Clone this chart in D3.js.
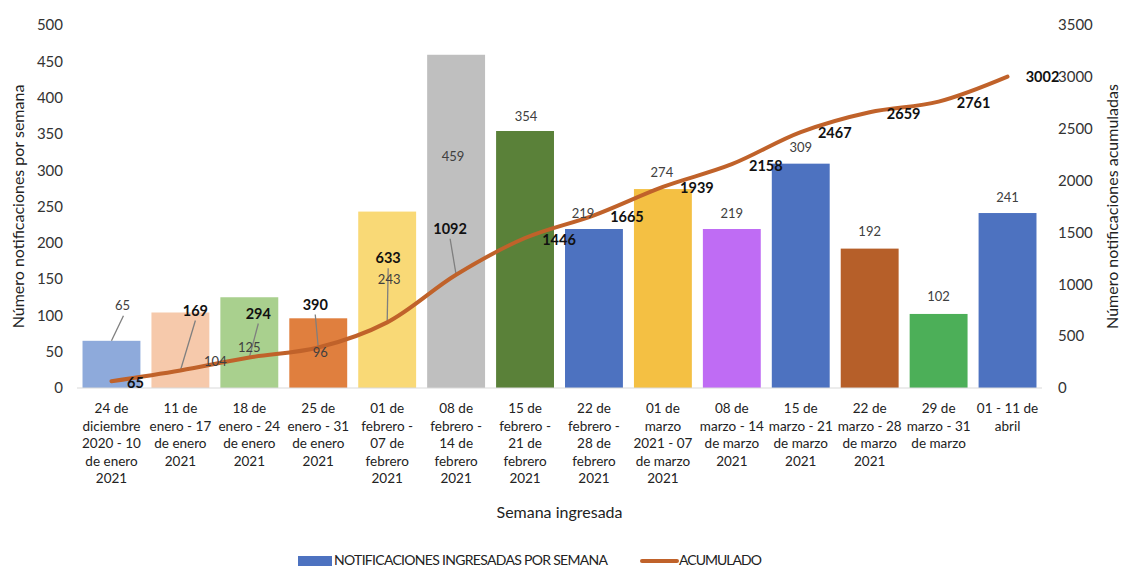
<!DOCTYPE html>
<html>
<head>
<meta charset="utf-8">
<script src="https://cdn.jsdelivr.net/npm/d3@7"></script>
<style>
  body { margin: 0; background: #fff; }
  svg { font-family: "Lato", "Open Sans", sans-serif; display: block; }
</style>
</head>
<body>
<script>
const weeks = [
	"24 de\ndiciembre\n2020 - 10\nde enero\n2021",
	"11 de\nenero - 17\nde enero\n2021",
	"18 de\nenero - 24\nde enero\n2021",
	"25 de\nenero - 31\nde enero\n2021",
	"01 de\nfebrero -\n07 de\nfebrero\n2021",
	"08 de\nfebrero -\n14 de\nfebrero\n2021",
	"15 de\nfebrero -\n21 de\nfebrero\n2021",
	"22 de\nfebrero -\n28 de\nfebrero\n2021",
	"01 de\nmarzo\n2021 - 07\nde marzo\n2021",
	"08 de\nmarzo - 14\nde marzo\n2021",
	"15 de\nmarzo - 21\nde marzo\n2021",
	"22 de\nmarzo - 28\nde marzo\n2021",
	"29 de\nmarzo - 31\nde marzo",
	"01 - 11 de\nabril",
];
const weekly = [65, 104, 125, 96, 243, 459, 354, 219, 274, 219, 309, 192, 102, 241];
const accumulated = [65, 169, 294, 390, 633, 1092, 1446, 1665, 1939, 2158, 2467, 2659, 2761, 3002];
const barColors = [
	"#8eaadb", "#f6c9ab", "#a9d08e", "#e07f3e", "#f9d976", "#bfbfbf", "#5a8139",
	"#4d72c0", "#f4c043", "#bf6cf4", "#4d72c0", "#b65f29", "#4caf58", "#4d72c0",
];
const leftTicks = [0, 50, 100, 150, 200, 250, 300, 350, 400, 450, 500];
const rightTicks = [0, 500, 1000, 1500, 2000, 2500, 3000, 3500];

// where Excel left the data labels (offset from the mark, px)
const barLabelShift = [
	[11, -35], [35, 49], [0, 50], [2, 34], [2, 68], [-3, 102], [1, -15],
	[-11, -16], [-1, -17], [0, -16], [0, -16], [0, -17], [0, -17], [0, -16],
];
const accLabelShift = [
	[24, 2], [15, -60], [9, -44], [-3, -43], [1, -64], [-6, -46], [34, 2],
	[33, 2], [34, 1], [34, 2], [34, 1], [34, 2], [35, 1], [35, 0],
];

const width = 1122;
const height = 567;
const margin = { top: 25, right: 80, bottom: 179, left: 77 };

const svg = d3.select("body").append("svg")
	.attr("width", width)
	.attr("height", height);

const x = d3.scaleBand()
	.domain(d3.range(weeks.length))
	.range([margin.left, width - margin.right])
	.paddingInner(0.16)
	.paddingOuter(0.08);
const yLeft = d3.scaleLinear().domain([0, 500]).range([height - margin.bottom, margin.top]);
const yRight = d3.scaleLinear().domain([0, 3500]).range([height - margin.bottom, margin.top]);
const cx = (i) => x(i) + x.bandwidth() / 2;

// bars
svg.append("g")
	.selectAll("rect")
	.data(weekly)
	.join("rect")
	.attr("x", (d, i) => x(i))
	.attr("y", (d) => yLeft(d))
	.attr("width", x.bandwidth())
	.attr("height", (d) => yLeft(0) - yLeft(d))
	.attr("fill", (d, i) => barColors[i]);

// baseline
svg.append("line")
	.attr("x1", margin.left)
	.attr("x2", width - margin.right)
	.attr("y1", yLeft(0))
	.attr("y2", yLeft(0))
	.attr("stroke", "#d9d9d9")
	.attr("stroke-width", 1.2);

// left axis
const leftAxis = svg.append("g")
	.attr("transform", `translate(${margin.left - 14},0)`)
	.call(d3.axisLeft(yLeft).tickValues(leftTicks).tickSize(0).tickPadding(0));
leftAxis.select(".domain").remove();
leftAxis.selectAll("text").attr("font-size", 15).attr("fill", "#333")
	.attr("font-family", "Lato, sans-serif");

// right axis
const rightAxis = svg.append("g")
	.attr("transform", `translate(${width - margin.right + 16},0)`)
	.call(d3.axisRight(yRight).tickValues(rightTicks).tickFormat(d3.format("d"))
		.tickSize(0).tickPadding(0));
rightAxis.select(".domain").remove();
rightAxis.selectAll("text").attr("font-size", 15).attr("fill", "#333")
	.attr("font-family", "Lato, sans-serif");

// category labels
const xAxis = svg.append("g")
	.attr("transform", `translate(0,${yLeft(0)})`)
	.call(d3.axisBottom(x).tickSize(0).tickFormat(() => ""));
xAxis.select(".domain").remove();
xAxis.selectAll(".tick text").each(function (i) {
	const t = d3.select(this)
		.attr("font-size", 13.5)
		.attr("fill", "#222")
		.attr("font-family", "Lato, sans-serif")
		.attr("y", null)
		.attr("dy", null);
	weeks[i].split("\n").forEach((line, k) => {
		t.append("tspan").attr("x", 0).attr("y", 25 + k * 17.5).text(line);
	});
});

// axis titles
svg.append("text")
	.attr("transform", `translate(24,${(yLeft(0) + yLeft(500)) / 2}) rotate(-90)`)
	.attr("text-anchor", "middle")
	.attr("font-size", 16)
	.attr("fill", "#222")
	.text("Número notificaciones por semana");
svg.append("text")
	.attr("transform", `translate(1118,${(yLeft(0) + yLeft(500)) / 2}) rotate(-90)`)
	.attr("text-anchor", "middle")
	.attr("font-size", 16)
	.attr("fill", "#222")
	.text("Número notificaciones acumuladas");
svg.append("text")
	.attr("x", (margin.left + width - margin.right) / 2)
	.attr("y", 518)
	.attr("text-anchor", "middle")
	.attr("font-size", 16)
	.attr("fill", "#222")
	.text("Semana ingresada");

// leader lines (drawn under labels)
const leaders = svg.append("g").attr("stroke", "#7f7f7f").attr("stroke-width", 1.3);
leaders.append("line")
	.attr("x1", cx(0) + barLabelShift[0][0] + 1)
	.attr("y1", yLeft(weekly[0]) + barLabelShift[0][1] + 10)
	.attr("x2", cx(0))
	.attr("y2", yLeft(weekly[0]));
[1, 2, 3, 4, 5].forEach((i) => {
	leaders.append("line")
		.attr("x1", cx(i) + accLabelShift[i][0])
		.attr("y1", yRight(accumulated[i]) + accLabelShift[i][1] + 10)
		.attr("x2", cx(i))
		.attr("y2", yRight(accumulated[i]));
});

// accumulated line
const line = d3.line()
	.x((d, i) => cx(i))
	.y((d) => yRight(d))
	.curve(d3.curveCatmullRom.alpha(0.5));
svg.append("path")
	.datum(accumulated)
	.attr("d", line)
	.attr("fill", "none")
	.attr("stroke", "#c0622a")
	.attr("stroke-width", 4)
	.attr("stroke-linecap", "round")
	.attr("stroke-linejoin", "round");

// bar value labels
svg.append("g")
	.selectAll("text")
	.data(weekly)
	.join("text")
	.attr("x", (d, i) => cx(i) + barLabelShift[i][0])
	.attr("y", (d, i) => yLeft(d) + barLabelShift[i][1])
	.attr("dy", "0.35em")
	.attr("text-anchor", "middle")
	.attr("font-size", 13)
	.attr("fill", "#404040")
	.text((d) => d);

// accumulated labels
svg.append("g")
	.selectAll("text")
	.data(accumulated)
	.join("text")
	.attr("x", (d, i) => cx(i) + accLabelShift[i][0])
	.attr("y", (d, i) => yRight(d) + accLabelShift[i][1])
	.attr("dy", "0.35em")
	.attr("text-anchor", "middle")
	.attr("font-size", 14.5)
	.attr("font-weight", "bold")
	.attr("fill", "#111")
	.text((d) => d);

// legend
const legend = svg.append("g").attr("font-size", 14).attr("fill", "#222");
legend.append("rect")
	.attr("x", 298).attr("y", 556).attr("width", 34).attr("height", 10)
	.attr("fill", "#4d72c0");
legend.append("text")
	.attr("x", 334).attr("y", 565)
	.attr("textLength", 274)
	.text("NOTIFICACIONES INGRESADAS POR SEMANA");
legend.append("line")
	.attr("x1", 642).attr("x2", 677).attr("y1", 561).attr("y2", 561)
	.attr("stroke", "#c0622a").attr("stroke-width", 4).attr("stroke-linecap", "round");
legend.append("text")
	.attr("x", 679).attr("y", 565)
	.attr("textLength", 83)
	.text("ACUMULADO");
</script>
</body>
</html>
